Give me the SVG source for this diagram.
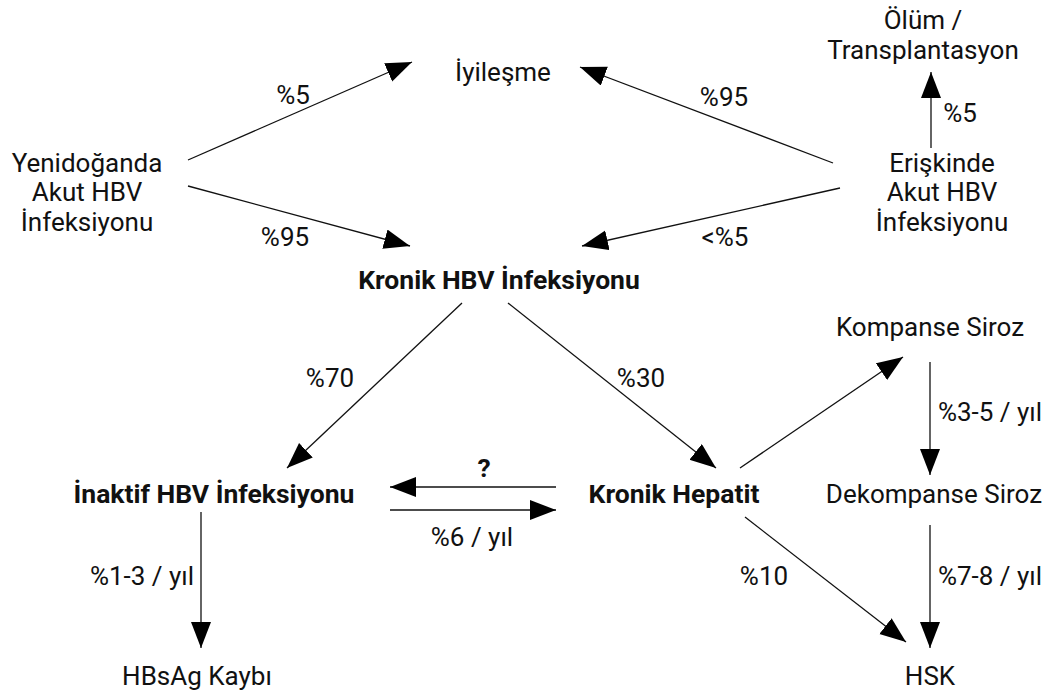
<svg xmlns="http://www.w3.org/2000/svg" width="1054" height="695" viewBox="0 0 1054 695">
<style>
text{font-family:Roboto,"Liberation Sans",sans-serif;font-size:26px;fill:#111;text-anchor:middle}
.b{font-weight:bold;font-size:26.5px}
.c line{stroke:#111;stroke-width:1.3;marker-end:url(#ah)}
</style>
<defs>
<marker id="ah" markerUnits="userSpaceOnUse" markerWidth="28" markerHeight="22" refX="26" refY="10" orient="auto">
<path d="M0,0 L26,10 L0,20 Z" fill="#000"/>
</marker>
</defs>
<rect width="1054" height="695" fill="#fff"/>
<g class="c" id="connectors">
<line x1="188" y1="160" x2="412" y2="62"/>
<line x1="188" y1="186" x2="410" y2="246"/>
<line x1="833" y1="163" x2="580" y2="67"/>
<line x1="840" y1="188" x2="582" y2="246"/>
<line x1="931" y1="148" x2="931" y2="72"/>
<line x1="462" y1="303" x2="287" y2="468"/>
<line x1="508" y1="303" x2="716" y2="468"/>
<line x1="740" y1="468" x2="903" y2="357"/>
<line x1="930" y1="362" x2="930" y2="475"/>
<line x1="745" y1="517" x2="906" y2="642"/>
<line x1="930" y1="525" x2="930" y2="648"/>
<line x1="201" y1="512" x2="201" y2="648"/>
<line x1="556" y1="487" x2="390" y2="487"/>
<line x1="390" y1="510" x2="556" y2="510"/>
</g>
<g id="labels">
<text x="293" y="104">%5</text>
<text x="724" y="106">%95</text>
<text x="960" y="122">%5</text>
<text x="285" y="246">%95</text>
<text x="725" y="246">&lt;%5</text>
<text x="330" y="387">%70</text>
<text x="641" y="387">%30</text>
<text x="990" y="421">%3-5 / yıl</text>
<text x="484" y="477" class="b">?</text>
<text x="472" y="546">%6 / yıl</text>
<text x="142" y="585">%1-3 / yıl</text>
<text x="764" y="585">%10</text>
<text x="990" y="585">%7-8 / yıl</text>
</g>
<g id="n-olum"><text x="923" y="29">Ölüm /</text><text x="923" y="59">Transplantasyon</text></g>
<g id="n-iyilesme"><text x="503" y="81">İyileşme</text></g>
<g id="n-yenidogan"><text x="87" y="172">Yenidoğanda</text><text x="87" y="201">Akut HBV</text><text x="87" y="231">İnfeksiyonu</text></g>
<g id="n-eriskin"><text x="942" y="172">Erişkinde</text><text x="942" y="201">Akut HBV</text><text x="942" y="231">İnfeksiyonu</text></g>
<g id="n-kronik"><text x="499" y="289" class="b">Kronik HBV İnfeksiyonu</text></g>
<g id="n-kompanse"><text x="930" y="336">Kompanse Siroz</text></g>
<g id="n-inaktif"><text x="214" y="503" class="b">İnaktif HBV İnfeksiyonu</text></g>
<g id="n-hepatit"><text x="674" y="503" class="b">Kronik Hepatit</text></g>
<g id="n-dekompanse"><text x="934" y="503">Dekompanse Siroz</text></g>
<g id="n-hbsag"><text x="197" y="685">HBsAg Kaybı</text></g>
<g id="n-hsk"><text x="930" y="685">HSK</text></g>
</svg>
